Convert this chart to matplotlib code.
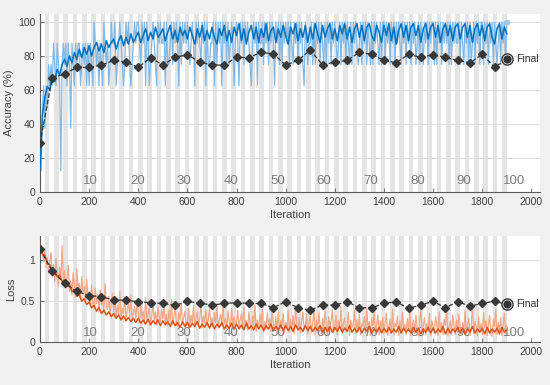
import matplotlib
matplotlib.use("Agg")
import matplotlib.pyplot as plt

plt.rcParams["font.family"] = ["Liberation Sans", "DejaVu Sans"]

iters_per_epoch = 19
n_epochs = 100
epoch_labels = [10, 20, 30, 40, 50, 60, 70, 80, 90, 100]

# raw mini-batch accuracy, one value every 5 iterations, in correct images out of 8
raw_acc_codes = [
    "21453546565765765167", "67576376576775676757", "57658767576587675687",
    "78567876568786567878", "87687858756787658787", "78586678687875868787",
    "87678758787687858667", "78586878587868678757", "87587868787657878587",
    "78687868787587868687", "87868768786878658767", "78686878687686878687",
    "87678687868768687876", "78687868768687876868", "86878687868787687868",
    "78687867868768786878", "86868786878786868787", "78687687868678687868",
    "86878687868767868786", "8",
]

# smoothed training accuracy (%), one value every 10 iterations
smooth_acc = [
    13, 45, 56, 62, 60, 68, 65, 72, 69, 75,
    78, 74, 80, 76, 82, 78, 84, 79, 85, 81,
    86, 80, 85, 88, 83, 87, 82, 89, 85, 88,
    90, 84, 89, 92, 86, 91, 87, 93, 88, 91,
    94, 88, 92, 96, 89, 94, 90, 97, 91, 93,
    96, 89, 94, 98, 90, 95, 88, 97, 92, 95,
    90, 97, 92, 87, 96, 91, 98, 89, 95, 90,
    97, 91, 87, 96, 92, 98, 89, 95, 88, 97,
    92, 99, 89, 96, 87, 94, 98, 90, 97, 88,
    96, 91, 99, 89, 95, 97, 88, 96, 91, 98,
    92, 87, 97, 93, 99, 89, 96, 91, 98, 88,
    97, 90, 99, 93, 88, 98, 91, 96, 99, 90,
    96, 89, 98, 93, 99, 90, 97, 88, 96, 99,
    91, 98, 89, 97, 99, 92, 89, 98, 94, 88,
    98, 92, 99, 89, 97, 87, 95, 99, 91, 98,
    89, 97, 99, 92, 98, 88, 96, 99, 90, 97,
    99, 91, 98, 88, 96, 99, 92, 98, 89, 97,
    99, 90, 97, 99, 91, 98, 88, 96, 99, 92,
    98, 89, 97, 99, 91, 87, 96, 99, 90, 97,
    93,
]

# raw mini-batch loss (x100), one value every 5 iterations
raw_loss = [
    120, 112, 108, 98, 115, 92, 104, 85, 97, 110, 80, 95, 74, 103, 86, 69, 92, 78, 118, 72,
    88, 66, 79, 94, 62, 75, 58, 85, 70, 55, 90, 63, 72, 52, 80, 60, 68, 49, 77, 57,
    62, 44, 70, 50, 41, 66, 47, 58, 38, 64, 45, 53, 36, 72, 43, 40, 56, 34, 48, 60,
    37, 52, 30, 45, 33, 62, 29, 41, 35, 55, 27, 39, 48, 31, 58, 26, 36, 44, 28, 50,
    33, 24, 47, 29, 38, 22, 54, 27, 35, 42, 23, 31, 49, 26, 37, 21, 44, 30, 25, 40,
    28, 46, 22, 34, 20, 39, 26, 52, 21, 31, 43, 24, 19, 36, 27, 48, 22, 30, 38, 20,
    25, 41, 19, 33, 23, 45, 18, 29, 37, 21, 27, 50, 17, 32, 24, 39, 20, 28, 42, 19,
    30, 18, 36, 23, 44, 17, 27, 34, 20, 47, 22, 29, 16, 38, 25, 19, 41, 21, 31, 18,
    24, 39, 17, 28, 35, 16, 43, 20, 26, 14, 37, 23, 15, 32, 21, 45, 13, 27, 16, 34,
    22, 40, 12, 25, 15, 36, 20, 29, 13, 42, 23, 16, 31, 12, 38, 14, 26, 21, 35, 11,
    24, 16, 39, 12, 28, 15, 33, 10, 44, 22, 14, 30, 11, 26, 37, 15, 21, 34, 10, 25,
    32, 12, 23, 41, 9, 27, 15, 35, 20, 10, 29, 17, 38, 22, 9, 31, 19, 25, 40, 11,
    21, 33, 9, 26, 18, 43, 10, 24, 30, 12, 20, 36, 8, 27, 18, 22, 39, 10, 28, 13,
    34, 9, 23, 19, 31, 11, 42, 14, 25, 8, 29, 20, 37, 10, 22, 33, 9, 26, 15, 30,
    10, 24, 35, 8, 20, 28, 12, 40, 9, 23, 19, 32, 8, 26, 11, 36, 15, 22, 9, 29,
    14, 38, 8, 21, 27, 10, 33, 16, 8, 25, 41, 11, 20, 30, 9, 23, 13, 35, 8, 26,
    19, 10, 31, 22, 8, 37, 12, 24, 9, 28, 20, 43, 8, 18, 26, 10, 33, 21, 9, 27,
    12, 34, 19, 8, 24, 13, 39, 9, 22, 29, 8, 18, 47, 10, 25, 20, 8, 31, 12, 23,
    9, 36, 18, 26, 8, 21, 33, 11, 7, 28, 19, 40, 9, 24, 13, 30, 8, 22, 35, 10,
    20,
]

# smoothed training loss (x100), one value every 10 iterations
smooth_loss = [
    120, 108, 106, 96, 95, 87, 88, 80, 82, 74,
    76, 68, 70, 62, 64, 56, 58, 50, 53, 46,
    49, 42, 45, 38, 42, 35, 39, 33, 37, 31,
    35, 29, 33, 27, 32, 26, 30, 25, 29, 24,
    29, 23, 27, 22, 28, 21, 26, 22, 27, 20,
    26, 21, 25, 19, 26, 20, 24, 18, 25, 19,
    24, 18, 23, 19, 25, 17, 22, 18, 24, 17,
    23, 16, 22, 18, 24, 16, 21, 17, 23, 16,
    22, 16, 21, 15, 23, 16, 20, 15, 22, 16,
    21, 14, 20, 16, 22, 14, 19, 15, 21, 14,
    20, 14, 19, 13, 21, 15, 18, 13, 20, 14,
    19, 13, 18, 14, 20, 12, 18, 13, 19, 12,
    18, 13, 19, 12, 17, 13, 20, 12, 17, 12,
    18, 11, 17, 13, 19, 11, 16, 12, 18, 11,
    17, 12, 18, 11, 16, 12, 19, 11, 17, 12,
    16, 11, 18, 12, 17, 10, 16, 12, 18, 11,
    17, 11, 16, 12, 19, 10, 17, 11, 16, 12,
    18, 11, 17, 10, 16, 12, 19, 11, 16, 12,
    17, 10, 18, 11, 16, 12, 17, 10, 18, 12,
    15,
]

# validation, every 50 iterations
val_acc = [28.6, 67.2, 69.4, 73.3, 73.3, 74.7, 77.4, 76.5, 73.3, 79.0,
           74.7, 79.2, 80.8, 76.4, 74.7, 74.7, 79.2, 79.0, 82.2, 81.2,
           74.7, 77.4, 83.5, 74.7, 76.5, 77.4, 82.1, 81.0, 77.4, 76.0,
           81.0, 79.2, 80.8, 79.2, 77.4, 76.0, 81.0, 73.3, 78.2]
val_loss = [1.14, 0.87, 0.72, 0.62, 0.57, 0.555, 0.514, 0.514, 0.494, 0.481,
            0.473, 0.449, 0.497, 0.477, 0.453, 0.473, 0.481, 0.473, 0.473, 0.42,
            0.494, 0.42, 0.39, 0.453, 0.453, 0.494, 0.42, 0.42, 0.473, 0.494,
            0.412, 0.453, 0.50, 0.42, 0.494, 0.44, 0.473, 0.50, 0.46]
final_iter = 1900
final_acc = 78.2
final_loss = 0.46

raw_acc = [int(c) * 12.5 for s in raw_acc_codes for c in s]
it5 = [5 * i for i in range(len(raw_acc))]
it10 = [10 * i for i in range(len(smooth_acc))]
it50 = [50 * i for i in range(len(val_acc))]

fig = plt.figure(figsize=(5.5, 3.85), dpi=100, facecolor="#f0f0f0")
ax1 = fig.add_axes([0.0727, 0.5013, 0.9091, 0.4623])
ax2 = fig.add_axes([0.0727, 0.1117, 0.9091, 0.2753])

band = "#e4e4e4"
axc = "#404040"

for ax in (ax1, ax2):
    for e in range(1, n_epochs, 2):
        ax.axvspan(e * iters_per_epoch, (e + 1) * iters_per_epoch, color=band, lw=0, zorder=0)
    ax.set_xlim(0, 2035)
    ax.set_xticks(range(0, 2001, 200))
    for s in ("top", "right"):
        ax.spines[s].set_visible(False)
    for s in ("left", "bottom"):
        ax.spines[s].set_color("#5a5a5a")
        ax.spines[s].set_linewidth(0.8)
    ax.tick_params(direction="in", length=3, width=0.6, colors="#5a5a5a",
                   labelsize=7.5, labelcolor=axc)
    ax.set_xlabel("Iteration", fontsize=8, color=axc, labelpad=2)

ax1.set_ylim(0, 104.7)
ax1.set_yticks([0, 20, 40, 60, 80, 100])
for yv in [20, 40, 60, 80, 100]:
    ax1.axhline(yv, color="#d8d8d8", lw=0.6, zorder=0.5)
for ep in epoch_labels:
    ax1.text(ep * iters_per_epoch - 14, 6.5, str(ep), fontsize=9.5, color="#7a7a7a",
             ha="left", va="center", zorder=1)
ax1.plot(it5, raw_acc, color="#82b8e4", lw=0.9, zorder=2)
ax1.plot([it5[-1]], [raw_acc[-1]], "o", color="#9cc8ec", ms=3, zorder=2)
ax1.plot(it10, smooth_acc, color="#0072bd", lw=1.1, zorder=3)
ax1.plot(it50, val_acc, "--", color="#333333", lw=0.9, marker="D", ms=4,
         markerfacecolor="#383838", markeredgecolor="#383838", zorder=4)
ax1.plot(final_iter, final_acc, "o", ms=8, mfc="white", mec="#333333", mew=1, zorder=5)
ax1.plot(final_iter, final_acc, "o", ms=5, color="#333333", zorder=6)
ax1.text(final_iter + 38, final_acc, "Final", fontsize=7.5, color="#333333", va="center")
ax1.set_ylabel("Accuracy (%)", fontsize=8, color=axc, labelpad=3)

ax2.set_ylim(0, 1.3)
ax2.set_yticks([0, 0.5, 1])
ax2.set_yticklabels(["0", "0.5", "1"])
for yv in [0.5, 1.0]:
    ax2.axhline(yv, color="#d8d8d8", lw=0.6, zorder=0.5)
for ep in epoch_labels:
    ax2.text(ep * iters_per_epoch - 14, 0.11, str(ep), fontsize=9.5, color="#7a7a7a",
             ha="left", va="center", zorder=1)
ax2.plot(it5, [v / 100 for v in raw_loss], color="#f2a887", lw=0.9, zorder=2)
ax2.plot(it10, [v / 100 for v in smooth_loss], color="#d95319", lw=1.1, zorder=3)
ax2.plot(it50, val_loss, "--", color="#333333", lw=0.9, marker="D", ms=4,
         markerfacecolor="#383838", markeredgecolor="#383838", zorder=4)
ax2.plot(final_iter, final_loss, "o", ms=8, mfc="white", mec="#333333", mew=1, zorder=5)
ax2.plot(final_iter, final_loss, "o", ms=5, color="#333333", zorder=6)
ax2.text(final_iter + 38, final_loss, "Final", fontsize=7.5, color="#333333", va="center")
ax2.set_ylabel("Loss", fontsize=8, color=axc, labelpad=3)

fig.savefig("out.png", dpi=100, facecolor=fig.get_facecolor())
